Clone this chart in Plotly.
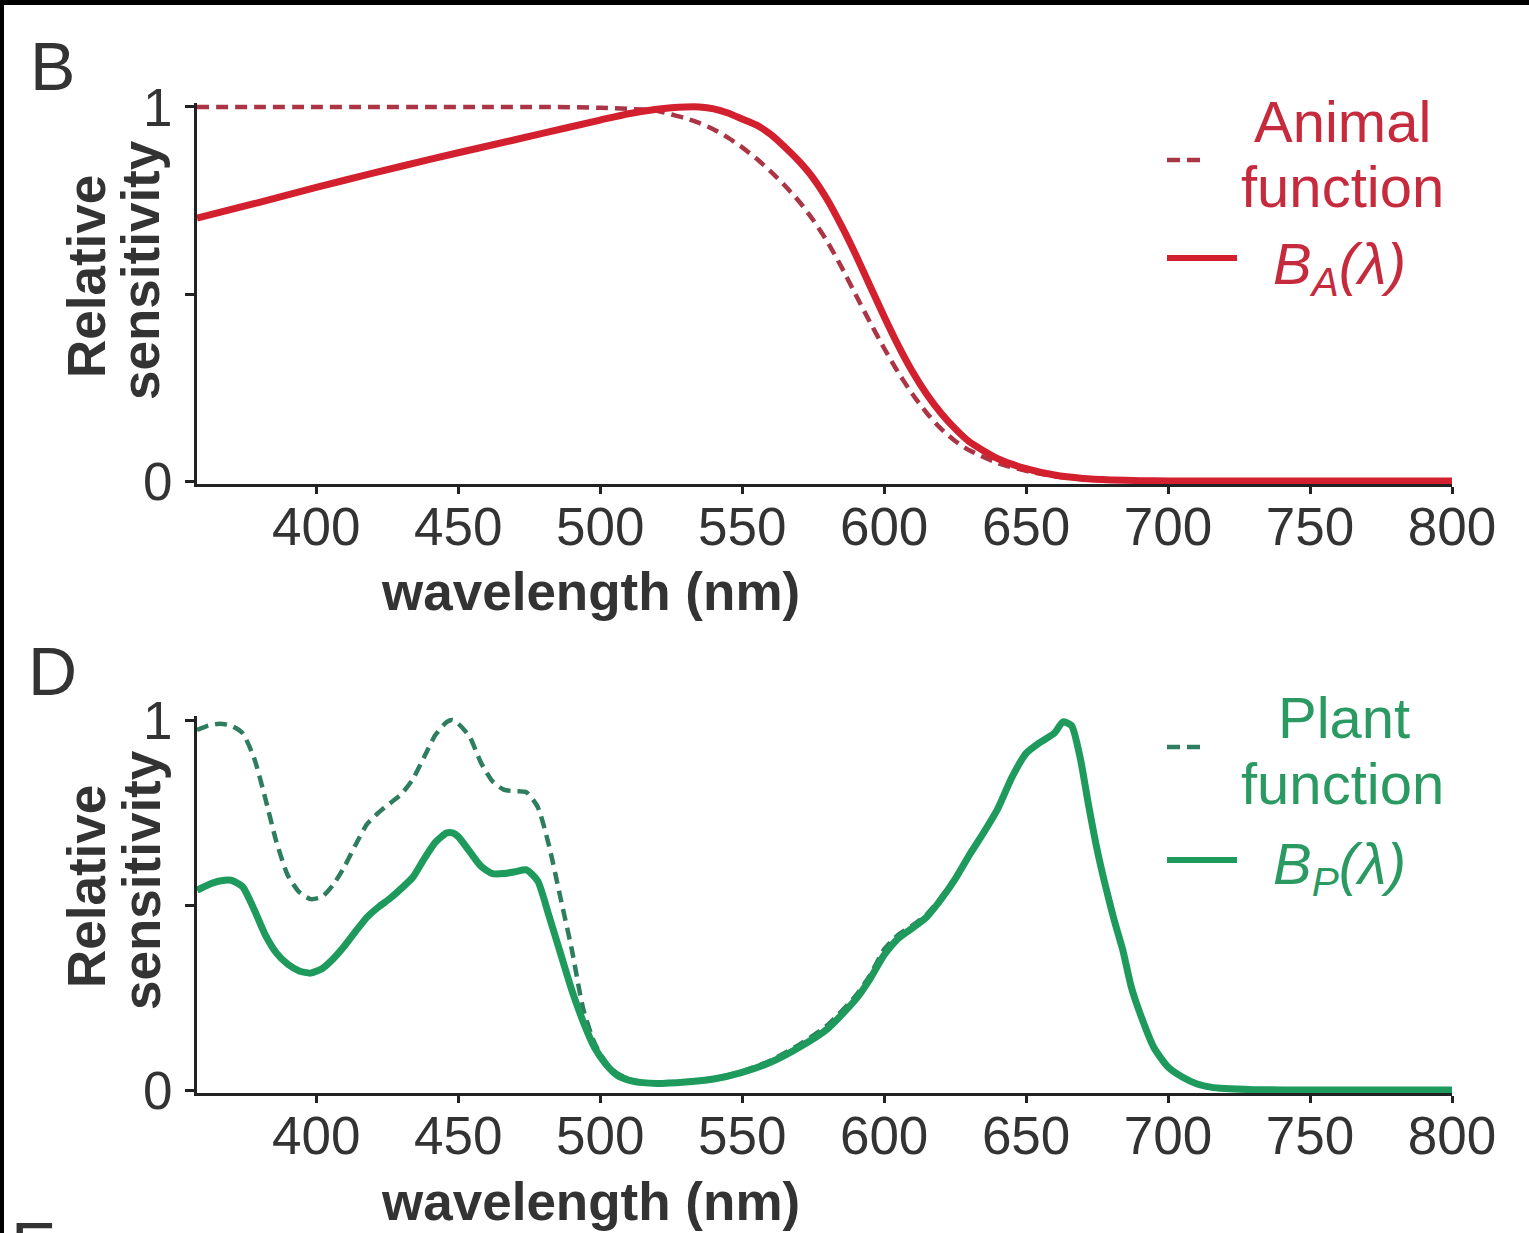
import plotly.graph_objects as go

# ---------------- data ----------------
wl_animal = [358, 380, 400, 420, 440, 460, 480, 500, 510, 520, 525, 530, 535, 540, 545, 550,
             555, 560, 565, 570, 575, 580, 585, 590, 595, 600, 605, 610, 615, 620, 625, 630,
             640, 650, 660, 670, 680, 690, 700, 750, 800]
animal_function = [1.0, 1.0, 1.0, 1.0, 1.0, 1.0, 1.0, 0.998, 0.995, 0.99, 0.98, 0.97, 0.957,
                   0.94, 0.918, 0.892, 0.862, 0.828, 0.79, 0.748, 0.698, 0.64, 0.572, 0.498,
                   0.425, 0.355, 0.29, 0.232, 0.182, 0.14, 0.107, 0.082, 0.048, 0.027, 0.013,
                   0.005, 0.002, 0.0, 0.0, 0.0, 0.0]
B_A = [0.703, 0.745, 0.785, 0.823, 0.86, 0.895, 0.93, 0.965, 0.982, 0.994, 0.998, 1.0, 1.0,
       0.995, 0.984, 0.968, 0.952, 0.927, 0.893, 0.855, 0.81, 0.752, 0.682, 0.605, 0.522,
       0.44, 0.362, 0.292, 0.232, 0.182, 0.14, 0.105, 0.06, 0.033, 0.016, 0.007, 0.003,
       0.001, 0.0, 0.0, 0.0]

wl_plant = [358, 362, 366, 370, 374, 378, 382, 386, 390, 394, 398, 402, 406, 410, 414, 418,
            422, 426, 430, 434, 438, 442, 446, 448, 450, 454, 458, 462, 466, 470, 474, 478,
            482, 486, 490, 494, 498, 502, 506, 510, 515, 520, 530, 540, 550, 560, 570, 580,
            590, 595, 600, 605, 610, 615, 620, 625, 630, 635, 640, 645, 650, 655, 660, 663,
            666, 669, 672, 675, 678, 681, 684, 687, 690, 695, 700, 705, 710, 715, 720, 730,
            750, 800]
plant_function = [0.973, 0.985, 0.99, 0.985, 0.965, 0.90, 0.79, 0.67, 0.58, 0.535, 0.516,
                  0.522, 0.555, 0.605, 0.665, 0.72, 0.75, 0.775, 0.80, 0.84, 0.90, 0.96,
                  0.995, 1.0, 0.99, 0.955, 0.885, 0.835, 0.812, 0.808, 0.805, 0.765, 0.66,
                  0.52, 0.38, 0.22, 0.127, 0.075, 0.045, 0.03, 0.02, 0.018, 0.022, 0.032,
                  0.05, 0.08, 0.122, 0.175, 0.255, 0.31, 0.38, 0.42, 0.445, 0.475, 0.52,
                  0.572, 0.635, 0.695, 0.76, 0.845, 0.91, 0.94, 0.965, 0.995, 0.985, 0.90,
                  0.77, 0.65, 0.55, 0.46, 0.38, 0.28, 0.21, 0.115, 0.062, 0.035, 0.017,
                  0.008, 0.004, 0.001, 0.0, 0.0]
B_P = [0.54, 0.555, 0.565, 0.567, 0.55, 0.49, 0.42, 0.37, 0.34, 0.322, 0.316, 0.328, 0.355,
       0.39, 0.43, 0.468, 0.495, 0.518, 0.545, 0.575, 0.625, 0.67, 0.695, 0.695, 0.685,
       0.645, 0.605, 0.585, 0.585, 0.59, 0.595, 0.565, 0.47, 0.37, 0.27, 0.185, 0.115,
       0.07, 0.04, 0.027, 0.02, 0.018, 0.022, 0.03, 0.048, 0.075, 0.115, 0.165, 0.245,
       0.30, 0.365, 0.41, 0.438, 0.468, 0.515, 0.57, 0.635, 0.695, 0.76, 0.845, 0.91,
       0.94, 0.965, 0.995, 0.985, 0.90, 0.77, 0.65, 0.55, 0.46, 0.38, 0.28, 0.21, 0.115,
       0.062, 0.035, 0.017, 0.008, 0.004, 0.001, 0.0, 0.0]

x_ticks = [400, 450, 500, 550, 600, 650, 700, 750, 800]
y_label_ticks = [0, 1]
y_label_text = ["0", "1"]
y_minor_ticks = [0.5]

# ---------------- styles ----------------
W, H = 1529, 1233
FONT = "Liberation Sans, Arial, Helvetica, sans-serif"
TXT = "#333333"
AX = "#222222"
RED_SOLID, RED_DASH, RED_TEXT = "#d2202f", "#ab3445", "#c62b3d"
GRN_SOLID, GRN_DASH, GRN_TEXT = "#1d9a5c", "#2e7d5e", "#2a9a62"


def px(x):
    return x / W


def py(y):
    return 1 - y / H


fig = go.Figure()

fig.add_trace(go.Scatter(x=wl_animal, y=animal_function, mode="lines", xaxis="x", yaxis="y",
                         line=dict(color=RED_DASH, width=4.5, dash="12px,7px", shape="spline",
                                   smoothing=0.6), showlegend=False))
fig.add_trace(go.Scatter(x=wl_animal, y=B_A, mode="lines", xaxis="x", yaxis="y",
                         line=dict(color=RED_SOLID, width=7, shape="spline", smoothing=0.6),
                         showlegend=False))
fig.add_trace(go.Scatter(x=wl_plant, y=plant_function, mode="lines", xaxis="x2", yaxis="y2",
                         line=dict(color=GRN_DASH, width=4.5, dash="12px,7px", shape="spline",
                                   smoothing=0.6), showlegend=False))
fig.add_trace(go.Scatter(x=wl_plant, y=B_P, mode="lines", xaxis="x2", yaxis="y2",
                         line=dict(color=GRN_SOLID, width=7, shape="spline", smoothing=0.6),
                         showlegend=False))

xcommon = dict(range=[358, 800], tickvals=x_ticks, ticks="outside", ticklen=7, tickwidth=3,
               tickcolor=AX, showline=True, linecolor=AX, linewidth=3, showgrid=False,
               zeroline=False, tickfont=dict(family=FONT, size=53, color=TXT),
               ticklabelstandoff=-13, automargin=False, domain=[px(197), px(1452)])
ycommon = dict(tickvals=y_label_ticks, ticktext=y_label_text, ticks="outside", ticklen=9,
               tickwidth=3, tickcolor=AX, showline=True, linecolor=AX, linewidth=3,
               showgrid=False, zeroline=False, tickfont=dict(family=FONT, size=53, color=TXT),
               ticklabelstandoff=2, automargin=False,
               minor=dict(tickvals=y_minor_ticks, ticks="outside", ticklen=9, tickwidth=3,
                          tickcolor=AX, showgrid=False))

fig.update_layout(
    width=W, height=H,
    margin=dict(l=0, r=0, t=0, b=0, pad=0),
    paper_bgcolor="black", plot_bgcolor="white",
    xaxis=dict(xcommon, anchor="y"),
    yaxis=dict(ycommon, anchor="x", range=[-0.008, 1.012], domain=[py(484), py(102.5)]),
    xaxis2=dict(xcommon, anchor="y2"),
    yaxis2=dict(ycommon, anchor="x2", range=[-0.008, 1.012], domain=[py(1093), py(715.6)]),
)

shapes = [dict(type="rect", xref="paper", yref="paper", x0=px(4), x1=1.0, y0=0, y1=py(5),
               fillcolor="white", line=dict(width=0), layer="below")]


def legend_symbols(y_dash, y_solid, c_dash, c_solid):
    out = []
    for xa, xb in [(1167, 1180), (1187, 1200)]:
        out.append(dict(type="line", xref="paper", yref="paper", x0=px(xa), x1=px(xb),
                        y0=py(y_dash), y1=py(y_dash), line=dict(color=c_dash, width=4.5)))
    out.append(dict(type="line", xref="paper", yref="paper", x0=px(1167), x1=px(1237),
                    y0=py(y_solid), y1=py(y_solid), line=dict(color=c_solid, width=6)))
    return out


shapes += legend_symbols(160, 258, RED_DASH, RED_SOLID)
shapes += legend_symbols(747, 860, GRN_DASH, GRN_SOLID)
fig.update_layout(shapes=shapes)

ann = []


def text(x, y, s, size, color=TXT, xanchor="center", angle=0, bold=False):
    if bold:
        s = "<b>" + s + "</b>"
    ann.append(dict(x=px(x), y=py(y), xref="paper", yref="paper", text=s, showarrow=False,
                    xanchor=xanchor, yanchor="middle", textangle=angle,
                    font=dict(family=FONT, size=size, color=color)))


# panel letters
text(52, 66, "B", 68)
text(52, 671, "D", 68)
text(33, 1246, "E", 68, xanchor="center")

# axis titles
for off in (0, 610):
    text(86, 277 + off, "Relative", 53, angle=-90, bold=True)
    text(141, 270 + off, "sensitivity", 53, angle=-90, bold=True)
text(590, 591, "wavelength (nm)", 53, bold=True)
text(590, 1201, "wavelength (nm)", 53, bold=True)

# legends
text(1342, 121, "Animal", 58, RED_TEXT)
text(1342, 186, "function", 58, RED_TEXT)
text(1271, 268, "<i>B<sub>A</sub>(λ)</i>", 58, RED_TEXT, xanchor="left")
text(1344, 717, "Plant", 58, GRN_TEXT)
text(1342, 783, "function", 58, GRN_TEXT)
text(1271, 868, "<i>B<sub>P</sub>(λ)</i>", 58, GRN_TEXT, xanchor="left")

fig.update_layout(annotations=ann)

fig.write_html(
    "out.html",
    config={"displayModeBar": False},
    post_script="document.body.style.margin='0';document.body.style.overflow='hidden';"
                "document.body.style.background='#000';",
)
